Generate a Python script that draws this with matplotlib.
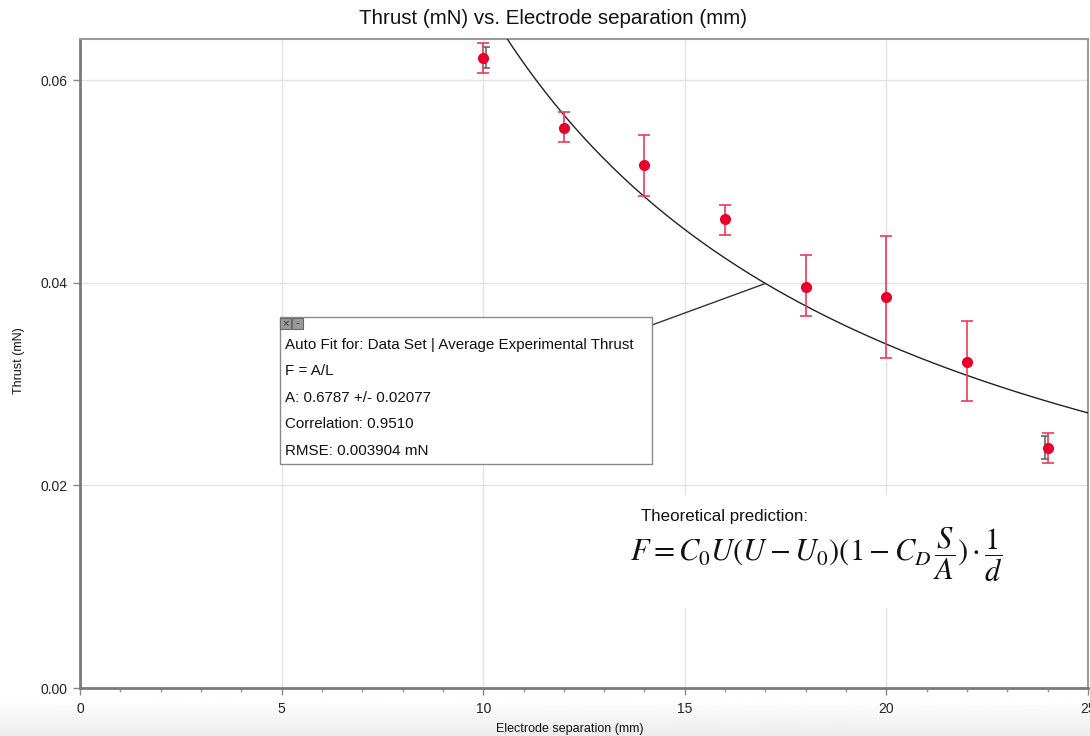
import numpy as np
import matplotlib
matplotlib.use("Agg")
import matplotlib.pyplot as plt
import matplotlib.transforms as mtransforms
from matplotlib.patches import Rectangle

# ---- data ----
sep_mm = [10, 12, 14, 16, 18, 20, 22, 24]
thrust = [0.0622, 0.0553, 0.0516, 0.0463, 0.0396, 0.0386, 0.0322, 0.0237]
err_lo = [0.0607, 0.0539, 0.0486, 0.0447, 0.0367, 0.0326, 0.0283, 0.0222]
err_hi = [0.0637, 0.0568, 0.0546, 0.0477, 0.0427, 0.0446, 0.0362, 0.0252]
grey_x = [10, 24]
grey_lo = [0.0612, 0.0226]
grey_hi = [0.0633, 0.0249]
fit_A = 0.6787
fit_lines = ["Auto Fit for: Data Set | Average Experimental Thrust",
             "F = A/L",
             "A: 0.6787 +/- 0.02077",
             "Correlation: 0.9510",
             "RMSE: 0.003904 mN"]
x_ticks = [0, 5, 10, 15, 20, 25]
y_ticks = [0.00, 0.02, 0.04, 0.06]

plt.rcParams['font.family'] = ['Liberation Sans', 'DejaVu Sans']
plt.rcParams['mathtext.fontset'] = 'stix'

W, H = 1090, 736
fig = plt.figure(figsize=(W / 100, H / 100), dpi=100)

# bottom screenshot gradient
bg = fig.add_axes([0, 0, 1, 36 / H], zorder=-5)
grad = np.linspace(0.925, 1.0, 50).reshape(-1, 1)
bg.imshow(grad, aspect='auto', cmap='gray', vmin=0, vmax=1, extent=[0, 1, 0, 1], origin='lower')
bg.axis('off')

def fx(px):
    return px / W

def fy(py):
    return 1 - py / H

ax = fig.add_axes([fx(80), fy(688), fx(1088) - fx(80), fy(39) - fy(688)])
ax.set_xlim(0, 25)
ax.set_ylim(0, 0.06405)

ax.set_xticks(x_ticks)
ax.set_xticks(np.arange(0, 25.01, 1), minor=True)
ax.set_yticks(y_ticks)
ax.set_yticklabels([f"{v:.2f}" for v in y_ticks])
ax.grid(True, which='major', color='#e4e4e4', linewidth=1)
ax.set_axisbelow(True)
ax.tick_params(axis='both', which='major', labelsize=10, color='#888888', length=5, width=1, labelcolor='#222222')
ax.tick_params(axis='x', which='major', pad=5)
ax.tick_params(axis='y', which='major', pad=4)
ax.tick_params(axis='x', which='minor', color='#999999', length=3, width=1)
for s in ax.spines.values():
    s.set_color('#9a9a9a')
    s.set_linewidth(1.5)
ax.spines['left'].set_color('#7a7a7a')
ax.spines['bottom'].set_color('#7a7a7a')
ax.spines['left'].set_linewidth(2)
ax.spines['bottom'].set_linewidth(2)

# fit curve
xs = np.linspace(5, 25, 400)
ax.plot(xs, fit_A / xs, color='#222222', linewidth=1.0, zorder=3)

# grey error bars (offset a few pixels)
for gx, lo, hi, off in zip(grey_x, grey_lo, grey_hi, [3, -3]):
    tr = ax.transData + mtransforms.ScaledTranslation(off / 100, 0, fig.dpi_scale_trans)
    ax.errorbar([gx], [(lo + hi) / 2], yerr=[[(hi - lo) / 2], [(hi - lo) / 2]], fmt='none',
                ecolor='#666666', elinewidth=1.2, capsize=3, capthick=1.2, transform=tr, zorder=4)

# red error bars + points
th = np.array(thrust)
ax.errorbar(sep_mm, thrust, yerr=[th - np.array(err_lo), np.array(err_hi) - th], fmt='o',
            color='#e8002d', markersize=7, ecolor='#ec3a5a', elinewidth=1.2, capsize=4,
            capthick=1.2, zorder=5)

# titles / labels
fig.text(fx(553), fy(18), "Thrust (mN) vs. Electrode separation (mm)", ha='center', va='center',
         fontsize=14.8, color='#111111')
fig.text(fx(570), fy(729), "Electrode separation (mm)", ha='center', va='center', fontsize=9, color='#111111')
fig.text(fx(19), fy(361), "Thrust (mN)", ha='center', va='center', rotation=90, fontsize=9, color='#111111')

# annotation box
bx0, by0, bx1, by1 = 280, 317, 652, 464
fig.patches.append(Rectangle((fx(bx0), fy(by1)), fx(bx1) - fx(bx0), fy(by0) - fy(by1),
                             transform=fig.transFigure, facecolor='white', edgecolor='#8a8a8a',
                             linewidth=1.0, zorder=6))
for ix, sym in [(280, '×'), (292, '-')]:
    fig.patches.append(Rectangle((fx(ix), fy(329)), fx(11), 11 / H, transform=fig.transFigure,
                                 facecolor='#9a9a9a', edgecolor='#6a6a6a', linewidth=0.8, zorder=7))
    fig.text(fx(ix + 5.5), fy(323), sym, ha='center', va='center', fontsize=8, color='#333333', zorder=8)
for i, line in enumerate(fit_lines):
    fig.text(fx(285), fy(345 + i * 26.5), line, ha='left', va='center', fontsize=10.9,
             color='#111111', zorder=8)
# connector from box to curve
cx = 17.0
ax.annotate("", xy=(cx, fit_A / cx), xycoords='data', xytext=(fx(652), fy(325)),
            textcoords='figure fraction',
            arrowprops=dict(arrowstyle='-', color='#333333', linewidth=1.0, shrinkA=0, shrinkB=0),
            zorder=6)

# theoretical formula panel
fig.patches.append(Rectangle((fx(600), fy(608)), fx(450), 113 / H, transform=fig.transFigure,
                             facecolor='white', edgecolor='none', zorder=2))
fig.text(fx(641), fy(517), "Theoretical prediction:", ha='left', va='center', fontsize=12.2,
         color='#111111', zorder=8)
fig.text(fx(630), fy(555), r"$F = C_0U(U - U_0)(1 - C_D\,\dfrac{S}{A})\cdot\dfrac{1}{d}$",
         ha='left', va='center', fontsize=22, color='#111111', zorder=8)

fig.savefig("out.png", dpi=100)
